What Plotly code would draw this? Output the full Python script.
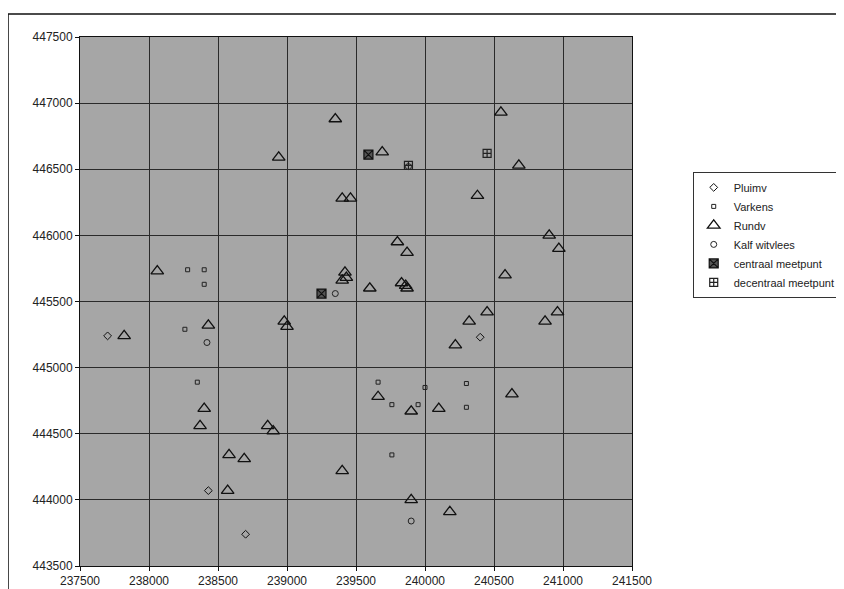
import plotly.graph_objects as go

# ---- data ----
pluimv_x = [237700, 240400, 238430, 238700]
pluimv_y = [445240, 445230, 444070, 443740]

varkens_x = [238280, 238400, 238400, 238260, 238350, 239660, 240000, 240300, 240300, 239760, 239950, 239760]
varkens_y = [445740, 445740, 445630, 445290, 444890, 444890, 444850, 444880, 444700, 444720, 444720, 444340]

rundv_x = [239350, 238940, 239690, 239400, 239460, 240550, 240680, 240380, 240900, 240970,
           240580, 240450, 240320, 240870, 240960, 240220, 239800, 239870, 239830, 239860,
           239870, 239600, 239420, 239430, 239400, 238980, 239000, 238060, 238430, 237820,
           238400, 238370, 238860, 238900, 238580, 238690, 238570, 239660, 239900, 240100,
           240630, 239400, 239900, 240180]
rundv_y = [446880, 446590, 446630, 446280, 446280, 446930, 446530, 446300, 446000, 445900,
           445700, 445420, 445350, 445350, 445420, 445170, 445950, 445870, 445640, 445620,
           445600, 445600, 445720, 445680, 445660, 445350, 445310, 445730, 445320, 445240,
           444690, 444560, 444560, 444520, 444340, 444310, 444070, 444780, 444670, 444690,
           444800, 444220, 444000, 443910]

kalf_x = [239880, 239350, 238420, 239900]
kalf_y = [446520, 445560, 445190, 443840]

centraal_x = [239590, 239250]
centraal_y = [446610, 445560]

decentraal_x = [240450, 239880]
decentraal_y = [446620, 446530]

x_ticks = [237500, 238000, 238500, 239000, 239500, 240000, 240500, 241000, 241500]
y_ticks = [443500, 444000, 444500, 445000, 445500, 446000, 446500, 447000, 447500]

fig = go.Figure()
fig.add_trace(go.Scatter(x=pluimv_x, y=pluimv_y, mode="markers", name="Pluimv",
                         marker=dict(symbol="diamond-open", size=6, color="#111111", line=dict(width=1))))
fig.add_trace(go.Scatter(x=varkens_x, y=varkens_y, mode="markers", name="Varkens",
                         marker=dict(symbol="square-open", size=4, color="#222222", line=dict(width=1))))
fig.add_trace(go.Scatter(x=rundv_x, y=rundv_y, mode="markers", name="Rundv",
                         marker=dict(symbol="triangle-up-open", size=11, color="#111111", line=dict(width=1.3))))
fig.add_trace(go.Scatter(x=kalf_x, y=kalf_y, mode="markers", name="Kalf witvlees",
                         marker=dict(symbol="circle-open", size=6, color="#222222", line=dict(width=1))))
fig.add_trace(go.Scatter(x=centraal_x, y=centraal_y, mode="markers", name="centraal meetpunt",
                         marker=dict(symbol="square-x", size=9, color="#555555", line=dict(width=1.2, color="#111111"))))
fig.add_trace(go.Scatter(x=decentraal_x, y=decentraal_y, mode="markers", name="decentraal meetpunt",
                         marker=dict(symbol="square-cross-open", size=8, color="#222222", line=dict(width=1.2))))

axis_common = dict(showgrid=True, gridcolor="#2a2a2a", gridwidth=1, zeroline=False,
                   showline=True, linecolor="#111111", linewidth=1, mirror=True,
                   ticks="outside", ticklen=4, tickcolor="#111111",
                   tickfont=dict(family="Liberation Sans, Arial", size=12, color="#222222"),
                   tickformat="d", automargin=False)

# the page body adds an 8px offset, so the figure is drawn 8px smaller
fig.update_layout(
    width=836, height=581,
    margin=dict(l=72, r=212, t=29, b=23, autoexpand=False),
    paper_bgcolor="white", plot_bgcolor="#a6a6a6",
    xaxis=dict(range=[237500, 241500], tickvals=x_ticks, ticktext=[str(v) for v in x_ticks], **axis_common),
    yaxis=dict(range=[443500, 447500], tickvals=y_ticks, ticktext=[str(v) for v in y_ticks], **axis_common),
    legend=dict(x=1.11, y=0.745, xanchor="left", yanchor="top",
                bordercolor="#333333", borderwidth=1, bgcolor="white",
                font=dict(family="Liberation Sans, Arial", size=11, color="#222222"),
                tracegroupgap=0, itemsizing="trace", itemwidth=30),
    showlegend=True,
    shapes=[dict(type="rect", xref="paper", yref="paper", x0=-0.1304, y0=-0.2, x1=1.6, y1=1.0435,
                 line=dict(color="#111111", width=1.5), fillcolor="rgba(0,0,0,0)", layer="below")],
)

fig.write_html("out.html")
